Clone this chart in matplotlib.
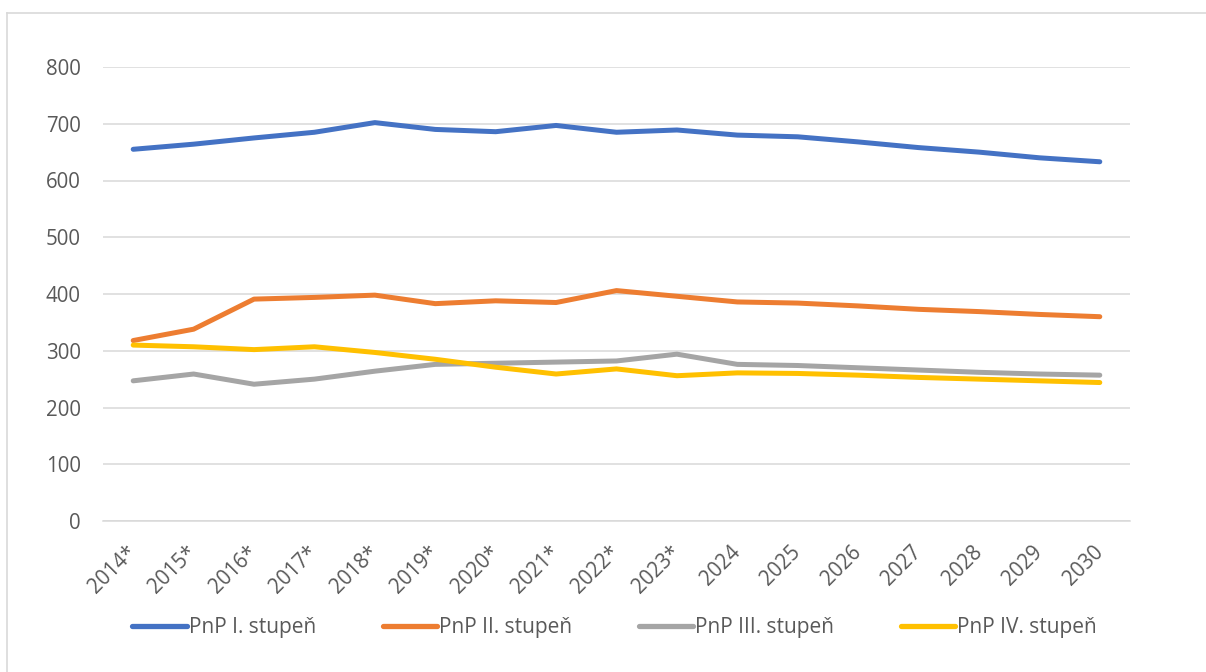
import matplotlib
matplotlib.use("Agg")
import matplotlib.pyplot as plt
from matplotlib.lines import Line2D

plt.rcParams['font.family'] = ['Open Sans', 'DejaVu Sans']

years = ["2014*", "2015*", "2016*", "2017*", "2018*", "2019*", "2020*", "2021*",
         "2022*", "2023*", "2024", "2025", "2026", "2027", "2028", "2029", "2030"]

pnp_1 = [655, 664, 675, 685, 702, 690, 686, 697, 685, 689, 680, 677, 668, 658, 650, 640, 633]
pnp_2 = [318, 338, 391, 394, 398, 383, 388, 385, 406, 396, 386, 384, 379, 373, 369, 364, 360]
pnp_3 = [247, 259, 241, 250, 264, 276, 278, 280, 282, 294, 276, 274, 270, 266, 262, 259, 257]
pnp_4 = [310, 307, 302, 307, 297, 285, 271, 259, 268, 256, 261, 260, 257, 253, 250, 247, 244]

series = [
    ("PnP I. stupeň", pnp_1, "#4472C4"),
    ("PnP II. stupeň", pnp_2, "#ED7D31"),
    ("PnP III. stupeň", pnp_3, "#A5A5A5"),
    ("PnP IV. stupeň", pnp_4, "#FFC000"),
]

W, H = 1206, 672
fig = plt.figure(figsize=(W / 100, H / 100), dpi=100)
fig.patch.set_facecolor("white")

# outer chart frame (left and top edges)
frame_col = "#d9d9d9"
fig.add_artist(Line2D([7 / W, 1.0], [1 - 13 / H, 1 - 13 / H], transform=fig.transFigure,
                      color=frame_col, lw=1.2))
fig.add_artist(Line2D([7 / W, 7 / W], [0.0, 1 - 13 / H], transform=fig.transFigure,
                      color=frame_col, lw=1.2))

left, right, top, bottom = 103, 1130, 67, 521
ax = fig.add_axes([left / W, 1 - bottom / H, (right - left) / W, (bottom - top) / H])

x = list(range(len(years)))
for label, vals, col in series:
    ax.plot(x, vals, color=col, lw=3.6, solid_capstyle="round", solid_joinstyle="round",
            label=label, zorder=3)

ax.set_xlim(-0.5, len(years) - 0.5)
ax.set_ylim(0, 800)
ax.set_yticks(range(0, 801, 100))
ax.grid(axis="y", color="#d9d9d9", lw=1.1, zorder=0)
ax.set_axisbelow(True)
for s in ["top", "right", "left"]:
    ax.spines[s].set_visible(False)
ax.spines["bottom"].set_color("#d9d9d9")
ax.spines["bottom"].set_linewidth(1.1)

text_col = "#595959"
ax.set_xticks(x)
ax.set_xticklabels(years, rotation=45, ha="right", va="center", rotation_mode="anchor")
ax.tick_params(axis="x", length=0, pad=20, labelsize=14.8, labelcolor=text_col)
ax.tick_params(axis="y", length=0, pad=16, labelsize=14.8, labelcolor=text_col)

handles = [Line2D([0], [0], color=c, lw=3.8, solid_capstyle="round") for _, _, c in series]
labels = [s[0] for s in series]
fig.legend(handles, labels, loc="center", ncol=4,
           bbox_to_anchor=(614.5 / W, 1 - 628 / H), bbox_transform=fig.transFigure,
           frameon=False, fontsize=15, labelcolor=text_col,
           handlelength=2.6, handletextpad=0.1, columnspacing=3.2)

fig.savefig("out.png", dpi=100, facecolor="white")
